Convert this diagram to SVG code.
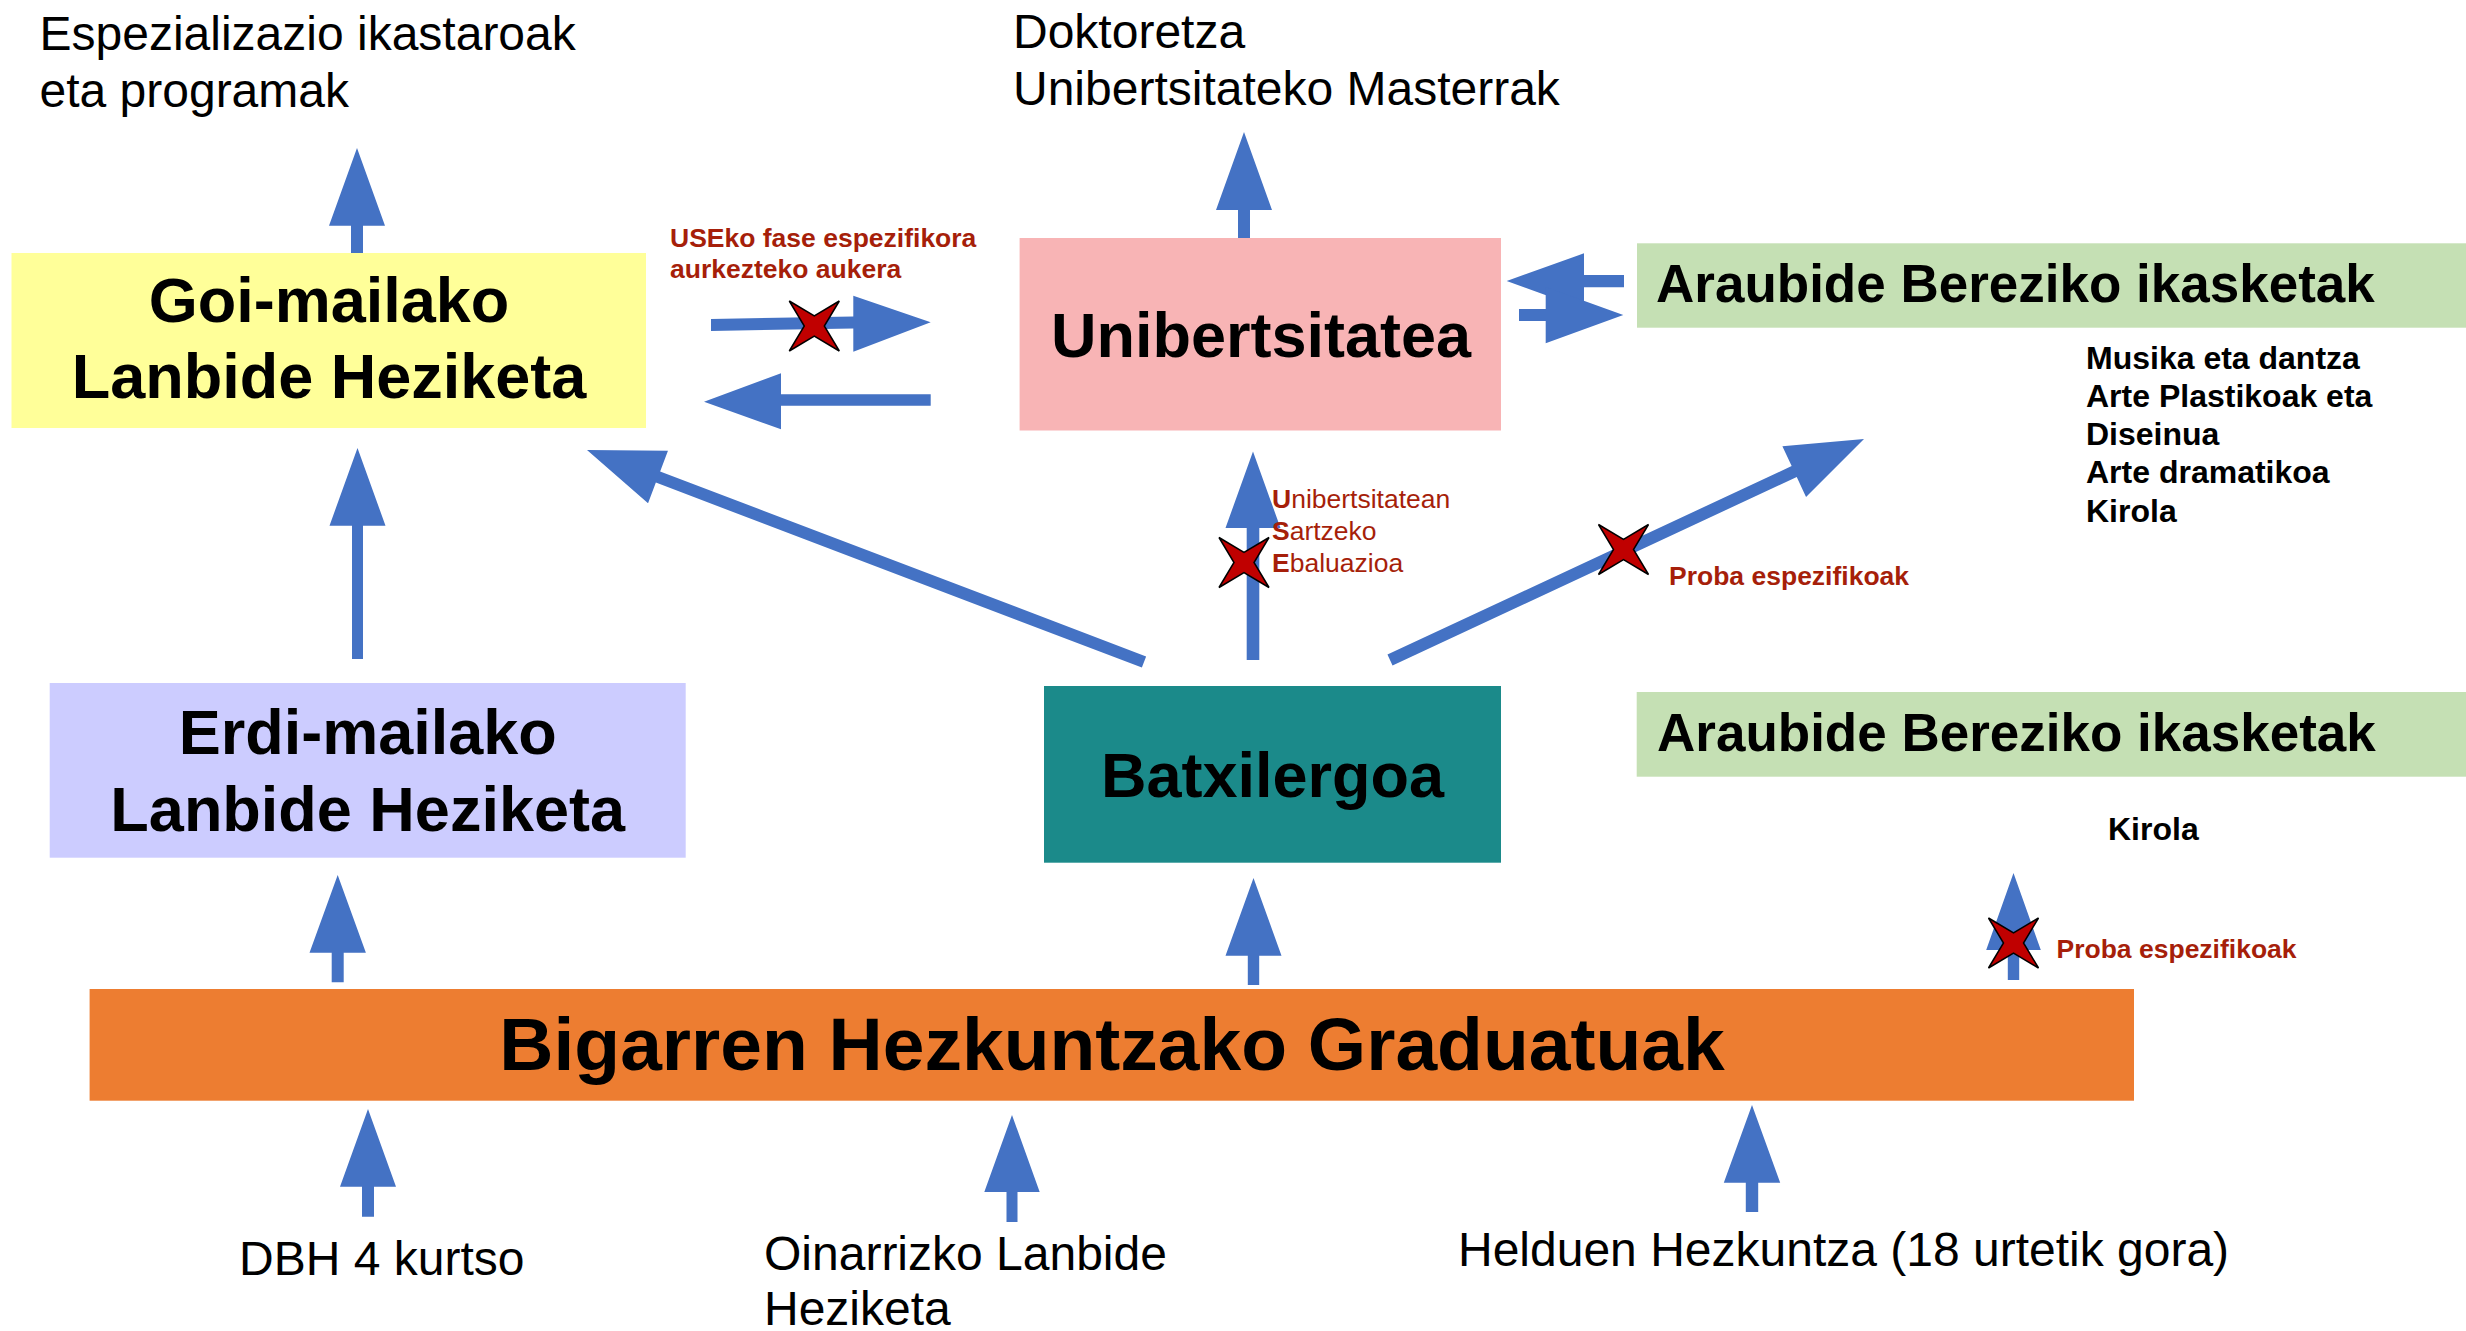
<svg xmlns="http://www.w3.org/2000/svg" xmlns:xlink="http://www.w3.org/1999/xlink" width="2466" height="1331" viewBox="0 0 2466 1331">
<style>
text{font-family:"Liberation Sans",Arial,sans-serif;}
.big{font-size:63px;font-weight:bold;fill:#000;text-anchor:middle;}
.ara{font-size:53px;font-weight:bold;fill:#000;}
.reg{font-size:48px;fill:#000;}
.lst{font-size:32px;font-weight:bold;fill:#000;}
.red{font-size:26.5px;fill:#A61F0A;}
.b{font-weight:bold;}
.arr{fill:#4472C4;}
</style>
<defs>
<path id="xm" d="M-25,-25 L0,-10 L25,-25 L10,0 L25,25 L0,10 L-25,25 L-10,0 Z" fill="#C00000" stroke="#000" stroke-width="1.5" stroke-linejoin="miter"/>
</defs>
<rect width="2466" height="1331" fill="#fff"/>

<g id="connectors">
<!-- vertical up arrows -->
<polygon class="arr" points="357,148 385,225.7 363,225.7 363,255 351,255 351,225.7 329,225.7"/>
<polygon class="arr" points="1244,132 1272,210 1250,210 1250,239 1238,239 1238,210 1216,210"/>
<polygon class="arr" points="357.5,448 385.5,525.7 363,525.7 363,659 352,659 352,525.7 329.5,525.7"/>
<polygon class="arr" points="1253,451.6 1280.5,528 1259.3,528 1259.3,660 1246.7,660 1246.7,528 1225.5,528"/>
<polygon class="arr" points="337.7,875 365.9,952.7 343.7,952.7 343.7,982.3 331.7,982.3 331.7,952.7 309.5,952.7"/>
<polygon class="arr" points="1253.5,878 1281.5,955.7 1259.2,955.7 1259.2,985 1247.8,985 1247.8,955.7 1225.5,955.7"/>
<polygon class="arr" points="2013.5,873 2040.8,950 2019.2,950 2019.2,980 2007.8,980 2007.8,950 1986.2,950"/>
<polygon class="arr" points="368,1109 396,1186.7 374,1186.7 374,1216.7 362,1216.7 362,1186.7 340,1186.7"/>
<polygon class="arr" points="1012,1115 1039.7,1192 1017.5,1192 1017.5,1222 1006.5,1222 1006.5,1192 984.3,1192"/>
<polygon class="arr" points="1752,1105 1780.2,1182.7 1758.2,1182.7 1758.2,1212 1745.8,1212 1745.8,1182.7 1723.8,1182.7"/>
<!-- horizontal arrows -->
<polygon class="arr" points="711,319 853.3,316.5 853.3,295.7 930.7,322.3 853.3,351.7 853.3,328.5 711,331"/>
<polygon class="arr" points="704,401.7 781,373.3 781,394.3 930.7,394.3 930.7,405.7 781,405.7 781,429.3"/>
<polygon class="arr" points="1506.7,281 1584,253.3 1584,275 1624,275 1624,287.3 1584,287.3 1584,309"/>
<polygon class="arr" points="1623.3,315 1545.7,343.3 1545.7,321 1519,321 1519,309 1545.7,309 1545.7,287"/>
<!-- diagonal arrows -->
<polygon class="arr" points="587,450 667.96,450.83 660.13,471.39 1146.13,656.39 1141.87,667.61 655.87,482.61 648.04,503.17"/>
<polygon class="arr" points="1864,439 1806.04,496.92 1796.75,476.98 1392.54,665.44 1387.46,654.56 1791.67,466.1 1782.38,446.16"/>
<!-- cross marks -->
<use xlink:href="#xm" x="814.3" y="326"/>
<use xlink:href="#xm" x="1244" y="562.5"/>
<use xlink:href="#xm" x="1623.5" y="549.5"/>
<use xlink:href="#xm" x="2013.5" y="943"/>
</g>

<g id="goi-mailako">
<rect x="11.5" y="253" width="634.5" height="175" fill="#FFFF99"/>
<text class="big" x="329" y="322">Goi-mailako</text>
<text class="big" x="329" y="398">Lanbide Heziketa</text>
</g>

<g id="unibertsitatea">
<rect x="1019.6" y="238" width="481.4" height="192.5" fill="#F8B4B5"/>
<text class="big" x="1261" y="357">Unibertsitatea</text>
</g>

<g id="araubide-1">
<rect x="1637" y="243.3" width="829" height="84.4" fill="#C5E0B4"/>
<text class="ara" x="1656" y="302">Araubide Bereziko ikasketak</text>
</g>

<g id="erdi-mailako">
<rect x="49.7" y="683" width="636" height="174.7" fill="#CCCCFF"/>
<text class="big" x="367.7" y="754">Erdi-mailako</text>
<text class="big" x="367.7" y="831">Lanbide Heziketa</text>
</g>

<g id="batxilergoa">
<rect x="1044" y="686" width="457" height="176.7" fill="#1B8A8A"/>
<text class="big" x="1272.5" y="796.7">Batxilergoa</text>
</g>

<g id="araubide-2">
<rect x="1636.7" y="692" width="829.3" height="84.7" fill="#C5E0B4"/>
<text class="ara" x="1657" y="750.7">Araubide Bereziko ikasketak</text>
</g>

<g id="bigarren">
<rect x="89.6" y="989" width="2044.4" height="111.7" fill="#ED7D31"/>
<text class="big" style="font-size:75px" x="1112" y="1070">Bigarren Hezkuntzako Graduatuak</text>
</g>

<g id="espezializazio">
<text class="reg" x="39.5" y="50">Espezializazio ikastaroak</text>
<text class="reg" x="39.5" y="107">eta programak</text>
</g>

<g id="doktoretza">
<text class="reg" x="1013" y="48">Doktoretza</text>
<text class="reg" x="1013" y="105">Unibertsitateko Masterrak</text>
</g>

<g id="araubide-list-1">
<text class="lst" x="2086" y="368.5">Musika eta dantza</text>
<text class="lst" x="2086" y="407">Arte Plastikoak eta</text>
<text class="lst" x="2086" y="445">Diseinua</text>
<text class="lst" x="2086" y="483">Arte dramatikoa</text>
<text class="lst" x="2086" y="521.6">Kirola</text>
</g>

<g id="araubide-list-2">
<text class="lst" x="2108" y="840">Kirola</text>
</g>

<g id="dbh">
<text class="reg" x="239" y="1275">DBH 4 kurtso</text>
</g>

<g id="oinarrizko">
<text class="reg" x="764" y="1270">Oinarrizko Lanbide</text>
<text class="reg" x="764" y="1325">Heziketa</text>
</g>

<g id="helduen">
<text class="reg" x="1458" y="1266">Helduen Hezkuntza (18 urtetik gora)</text>
</g>

<g id="labels">
<text class="red b" x="670" y="247">USEko fase espezifikora</text>
<text class="red b" x="670" y="277.5">aurkezteko aukera</text>
<text class="red" x="1272" y="508"><tspan class="b">U</tspan>nibertsitatean</text>
<text class="red" x="1272" y="540"><tspan class="b">S</tspan>artzeko</text>
<text class="red" x="1272" y="572"><tspan class="b">E</tspan>baluazioa</text>
<text class="red b" x="1669" y="585">Proba espezifikoak</text>
<text class="red b" x="2056.5" y="958">Proba espezifikoak</text>
</g>
</svg>
